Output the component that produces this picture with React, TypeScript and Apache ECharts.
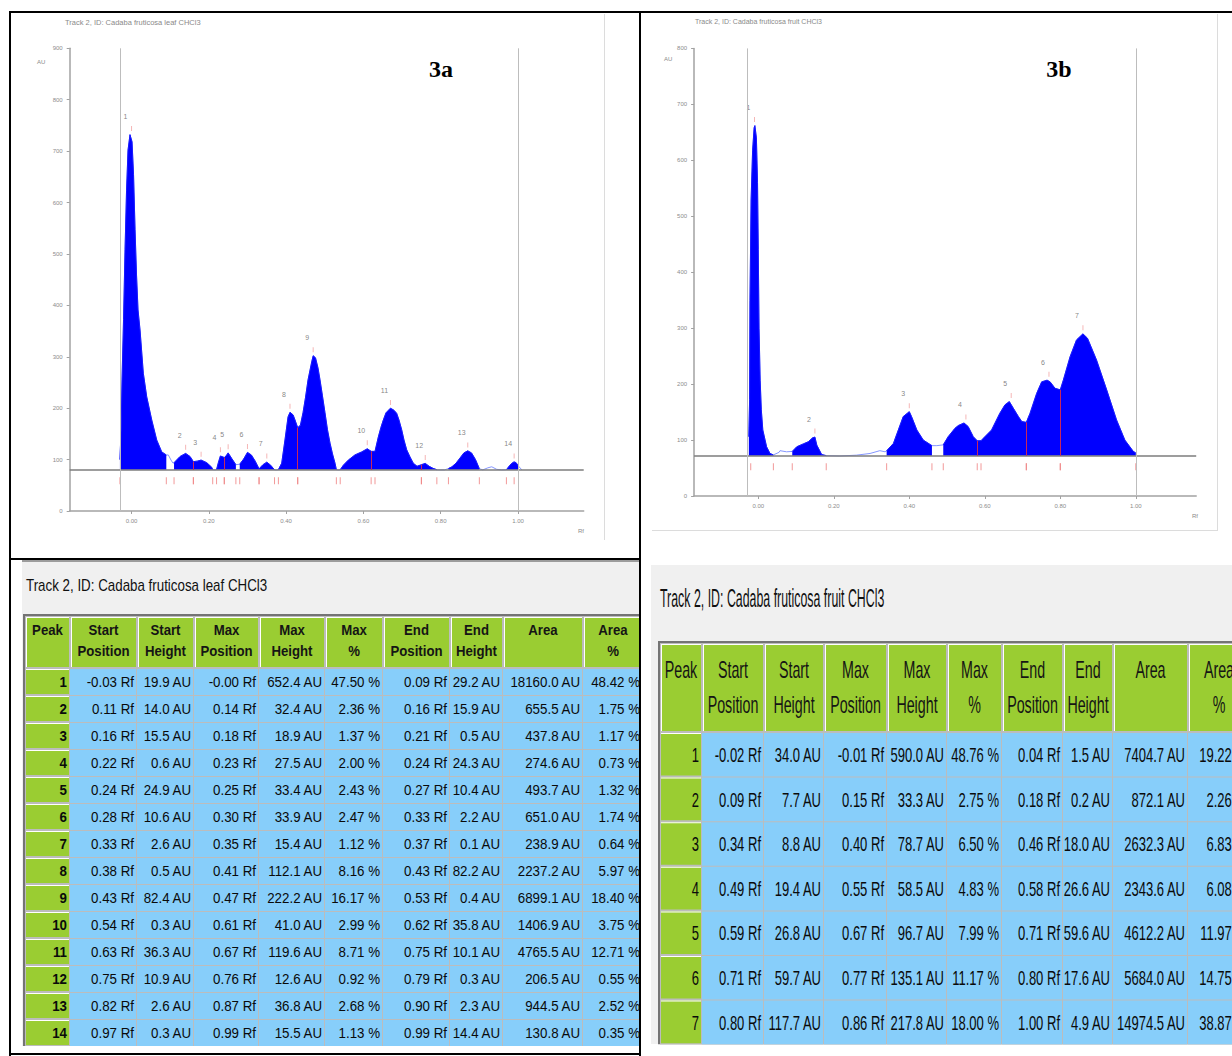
import React, { useEffect, useRef } from "react";
import * as echarts from "echarts";

// ================= 3a : Cadaba fruticosa leaf CHCl3 — densitogram trace (Rf, AU)
const rfLeaf = [
  -0.03, -0.027, -0.0246, -0.0207, -0.0168, -0.0129, -0.0091, -0.004, 0.0013, 0.0052, 0.0091, 0.0129, 0.0168, 0.022, 0.0305, 0.0393, 0.0523, 0.0652, 0.0781, 0.09,
  0.0952, 0.1022, 0.1074, 0.11,
  0.1255, 0.14, 0.1514, 0.16,
  0.17, 0.18, 0.1946, 0.2075, 0.21,
  0.216, 0.22,
  0.225, 0.23, 0.24,
  0.2445, 0.25, 0.2593, 0.27,
  0.28, 0.29, 0.3, 0.31, 0.32, 0.33,
  0.34, 0.35, 0.36, 0.37,
  0.375,
  0.38, 0.3886, 0.397, 0.405, 0.41, 0.418, 0.423, 0.43,
  0.437, 0.4437, 0.45, 0.4567, 0.4662, 0.47, 0.476, 0.4825, 0.4877, 0.494, 0.5006, 0.507, 0.5136, 0.52, 0.5265, 0.53,
  0.535,
  0.54, 0.548, 0.561, 0.578, 0.5956, 0.61, 0.62,
  0.63, 0.6386, 0.6455, 0.6515, 0.6585, 0.67, 0.679, 0.686, 0.692, 0.699, 0.705, 0.712, 0.7206, 0.729, 0.7387, 0.75,
  0.76, 0.77, 0.78, 0.79,
  0.8, 0.81,
  0.82, 0.829, 0.8396, 0.85, 0.86, 0.87, 0.8797, 0.89, 0.9,
  0.909, 0.922, 0.932, 0.945, 0.958,
  0.97, 0.979, 0.986, 0.99, 0.995, 1.001, 1.01,
];
const auLeaf = [
  100, 158, 255, 372, 508, 624, 702, 732, 718, 654, 547, 459, 391, 352, 268, 222, 177, 138, 115, 109,
  109, 99, 93, 94,
  106, 112, 106, 96,
  97, 99, 94, 85, 80.5,
  80, 80.6,
  95, 107, 104,
  107, 113, 102, 90,
  91, 101, 114, 109, 97, 82,
  90, 95, 89, 80,
  80,
  80.5, 93, 138, 183, 192, 187, 177, 162,
  167, 191, 220, 255, 290, 302, 298, 278, 255, 224, 191, 158, 132, 111, 93, 80.4,
  80,
  80.3, 89, 99, 109, 115, 121, 116,
  116, 144, 163, 177, 191, 200, 196, 190, 177, 158, 138, 119, 105, 93, 87, 90,
  92.6, 87, 83, 80.3,
  80, 80,
  82.6, 86, 93, 103, 113, 117, 113, 100, 82.3,
  80, 84, 86, 81, 80,
  80.3, 89, 94, 95.5, 94, 87.5, 80,
];
const baselineLeaf = 80;
const fillFromLeaf = [-0.03, 0.11, 0.22, 0.28, 0.38, 0.54, 0.82, 0.97];
const fillToLeaf = [0.09, 0.21, 0.27, 0.37, 0.53, 0.79, 0.9, 1.001];
const splitsLeaf = [0.16, 0.24, 0.43, 0.62, 0.75];
const frontsLeaf = [-0.03, 1.0];

// ================= 3b : Cadaba fruticosa fruit CHCl3
const rfFruit = [
  -0.025, -0.023, -0.022, -0.019, -0.015, -0.011, -0.009, -0.005, -0.002, 0.0, 0.002, 0.005, 0.008, 0.012, 0.022, 0.031, 0.04,
  0.055, 0.0575, 0.075, 0.09,
  0.102, 0.119, 0.1325, 0.144, 0.15, 0.155, 0.168, 0.18,
  0.216, 0.26, 0.296, 0.322, 0.336,
  0.34, 0.358, 0.371, 0.384, 0.4, 0.406, 0.42, 0.437, 0.46,
  0.473, 0.49,
  0.503, 0.521, 0.53, 0.545, 0.556, 0.5695, 0.58,
  0.59, 0.596, 0.618, 0.64, 0.6535, 0.665, 0.6755, 0.689, 0.698, 0.71,
  0.72, 0.7375, 0.7507, 0.765, 0.773, 0.786, 0.8,
  0.808, 0.826, 0.843, 0.86, 0.872, 0.896, 0.923, 0.949, 0.971, 0.993, 1.0,
];
const auFruit = [
  106, 172, 350, 529, 618, 658, 662, 640, 560, 440, 300, 207, 154, 118, 88, 76, 73.5,
  78, 81, 79, 79.7,
  88, 93, 97, 104, 105.3, 91, 74, 72.2,
  71.5, 73, 76, 81, 79,
  80.8, 94, 118, 142, 150.7, 142, 118, 100, 90,
  90, 91.4,
  106, 121, 126, 130.5, 124, 106, 98.6,
  98.8, 103, 118, 148, 163, 168.7, 157, 142, 133, 131.6,
  148, 183.5, 204, 207, 204, 192.5, 189.7,
  207, 249, 279, 289.8, 282, 243, 189.5, 136, 100, 80, 76.9,
];
const baselineFruit = 72;
const fillFromFruit = [-0.025, 0.09, 0.34, 0.49];
const fillToFruit = [0.04, 0.18, 0.46, 1.0];
const splitsFruit = [0.58, 0.71, 0.8];
const frontsFruit = [-0.025, 1.0];

const xTickValues = [0, 0.2, 0.4, 0.6, 0.8, 1.0];

// ================= Table: leaf
const peakLeaf = [1, 2, 3, 4, 5, 6, 7, 8, 9, 10, 11, 12, 13, 14];
const startPosLeaf = [-0.03, 0.11, 0.16, 0.22, 0.24, 0.28, 0.33, 0.38, 0.43, 0.54, 0.63, 0.75, 0.82, 0.97];
const startHLeaf = [19.9, 14.0, 15.5, 0.6, 24.9, 10.6, 2.6, 0.5, 82.4, 0.3, 36.3, 10.9, 2.6, 0.3];
const maxPosLeaf = [-0.0, 0.14, 0.18, 0.23, 0.25, 0.3, 0.35, 0.41, 0.47, 0.61, 0.67, 0.76, 0.87, 0.99];
const maxHLeaf = [652.4, 32.4, 18.9, 27.5, 33.4, 33.9, 15.4, 112.1, 222.2, 41.0, 119.6, 12.6, 36.8, 15.5];
const maxPctLeaf = [47.5, 2.36, 1.37, 2.0, 2.43, 2.47, 1.12, 8.16, 16.17, 2.99, 8.71, 0.92, 2.68, 1.13];
const endPosLeaf = [0.09, 0.16, 0.21, 0.24, 0.27, 0.33, 0.37, 0.43, 0.53, 0.62, 0.75, 0.79, 0.9, 0.99];
const endHLeaf = [29.2, 15.9, 0.5, 24.3, 10.4, 2.2, 0.1, 82.2, 0.4, 35.8, 10.1, 0.3, 2.3, 14.4];
const areaLeaf = [18160.0, 655.5, 437.8, 274.6, 493.7, 651.0, 238.9, 2237.2, 6899.1, 1406.9, 4765.5, 206.5, 944.5, 130.8];
const areaPctLeaf = [48.42, 1.75, 1.17, 0.73, 1.32, 1.74, 0.64, 5.97, 18.4, 3.75, 12.71, 0.55, 2.52, 0.35];

// ================= Table: fruit
const peakFruit = [1, 2, 3, 4, 5, 6, 7];
const startPosFruit = [-0.02, 0.09, 0.34, 0.49, 0.59, 0.71, 0.8];
const startHFruit = [34.0, 7.7, 8.8, 19.4, 26.8, 59.7, 117.7];
const maxPosFruit = [-0.01, 0.15, 0.4, 0.55, 0.67, 0.77, 0.86];
const maxHFruit = [590.0, 33.3, 78.7, 58.5, 96.7, 135.1, 217.8];
const maxPctFruit = [48.76, 2.75, 6.5, 4.83, 7.99, 11.17, 18.0];
const endPosFruit = [0.04, 0.18, 0.46, 0.58, 0.71, 0.8, 1.0];
const endHFruit = [1.5, 0.2, 18.0, 26.6, 59.6, 17.6, 4.9];
const areaFruit = [7404.7, 872.1, 2632.3, 2343.6, 4612.2, 5684.0, 14974.5];
const areaPctFruit = [19.22, 2.26, 6.83, 6.08, 11.97, 14.75, 38.87];

const HEADERS = ["Peak", "Start\nPosition", "Start\nHeight", "Max\nPosition", "Max\nHeight", "Max\n%", "End\nPosition", "End\nHeight", "Area", "Area\n%"];
const titleLeaf = "Track 2, ID: Cadaba fruticosa leaf CHCl3";
const titleFruit = "Track 2, ID: Cadaba fruticosa fruit CHCl3";

// ----------------------------------------------------------------
const GREEN = "#9acd32";
const BLUE = "#87cefa";
const FONT = "'Liberation Sans', Arial, Helvetica, sans-serif";
const AXIS_GREY = "#a2a2a2";

const fmtPos = (v: number) => (Object.is(v, -0) ? "-" : "") + v.toFixed(2) + " Rf";
const fmtAU = (v: number) => v.toFixed(1) + " AU";
const fmtPct = (v: number) => v.toFixed(2) + " %";

function R(x: number, y: number, w: number, h: number, fill: string, z = 2) {
  return { type: "rect", silent: true, z, shape: { x, y, width: w, height: h }, style: { fill } };
}
function T(x: number, y: number, text: string, o: any) {
  return {
    type: "text",
    silent: true,
    z: o.z ?? 5,
    x,
    y,
    scaleX: o.scaleX ?? 1,
    style: {
      text,
      fontSize: o.fontSize,
      fontFamily: o.fontFamily ?? FONT,
      fontWeight: o.fontWeight ?? "normal",
      fill: o.fill ?? "#111",
      align: o.align ?? "left",
      verticalAlign: o.verticalAlign ?? "middle",
      lineHeight: o.lineHeight,
    },
  };
}

function tableEls(cfg: any, rows: string[][]) {
  const els: any[] = [];
  const cols: number[] = cfg.cols;
  const top = cfg.top;
  const x0 = cols[0];
  const x1 = cols[cols.length - 1];
  const bodyTop = top + cfg.headH;
  const y1 = bodyTop + cfg.rowH * rows.length;
  els.push(R(x0 - 2, top - 2, x1 - x0 + 2, y1 - top + 2, "#747474", 2));
  els.push(R(x0, top, x1 - x0, y1 - top, "#bcbcbc", 2));
  HEADERS.forEach((h, c) => {
    const cx = cols[c];
    const w = cols[c + 1] - cx;
    els.push(R(cx + 1, top + 1, w - 2, cfg.headH - 2, GREEN, 3));
    els.push(R(cx + 1, top + 1, w - 2, 1, "#ffffff", 3));
    els.push(R(cx + 1, top + 1, 1, cfg.headH - 2, "#ffffff", 3));
    els.push(
      T(cx + w / 2, top + cfg.headPadTop, h, {
        fontSize: cfg.headFontSize,
        fontWeight: cfg.headWeight,
        scaleX: cfg.headScale,
        align: "center",
        verticalAlign: "top",
        lineHeight: cfg.headLineH,
        fill: "#151515",
      })
    );
  });
  rows.forEach((r, i) => {
    const y = bodyTop + i * cfg.rowH;
    r.forEach((cell, c) => {
      const cx = cols[c];
      const w = cols[c + 1] - cx;
      if (c === 0) {
        els.push(R(cx + 1, y + 1, w - 2, cfg.rowH - 2, GREEN, 3));
        els.push(R(cx + 1, y + 1, w - 2, 1, "#ffffff", 3));
      } else {
        els.push(R(cx, y + 1, w - 1, cfg.rowH - 1, BLUE, 3));
      }
      els.push(
        T(cx + w - cfg.pad, y + cfg.rowH / 2 + 0.5, cell, {
          fontSize: cfg.bodyFontSize,
          fontWeight: c === 0 ? cfg.peakWeight : "normal",
          scaleX: cfg.bodyScale,
          align: "right",
          verticalAlign: "middle",
          fill: "#0a0a0a",
        })
      );
    });
  });
  return els;
}

function rowsOf(peak: number[], sp: number[], sh: number[], mp: number[], mh: number[], mpc: number[], ep: number[], eh: number[], ar: number[], apc: number[]) {
  return peak.map((p, i) => [String(p), fmtPos(sp[i]), fmtAU(sh[i]), fmtPos(mp[i]), fmtAU(mh[i]), fmtPct(mpc[i]), fmtPos(ep[i]), fmtAU(eh[i]), fmtAU(ar[i]), fmtPct(apc[i])]);
}

function chromSeries(idx: number, rf: number[], au: number[], base: number, from: number[], to: number[], splits: number[], fronts: number[], starts: number[], ends: number[], maxPos: number[], maxH: number[]) {
  const trace = rf.map((x, i) => [x, au[i]]);
  const fill: any[] = [];
  from.forEach((f, k) => {
    rf.forEach((x, i) => {
      if (x >= f - 1e-9 && x <= to[k] + 1e-9) fill.push([x, au[i]]);
    });
    fill.push([to[k], null]);
  });
  const heightAt = (x: number) => {
    let best = 0;
    rf.forEach((v, i) => {
      if (Math.abs(v - x) < Math.abs(rf[best] - x)) best = i;
    });
    return au[best];
  };
  const redStyle = { color: "#c8285a", width: 1, type: "solid" };
  return [
    {
      type: "line",
      xAxisIndex: idx,
      yAxisIndex: idx,
      data: trace,
      symbol: "none",
      silent: true,
      z: 1,
      lineStyle: { color: "#8596ff", width: 1 },
    },
    {
      type: "line",
      xAxisIndex: idx,
      yAxisIndex: idx,
      data: fill,
      symbol: "none",
      silent: true,
      connectNulls: false,
      z: 2,
      lineStyle: { color: "#1818ff", width: 1 },
      areaStyle: { color: "#0000ff", opacity: 1, origin: base },
      markLine: {
        silent: true,
        symbol: ["none", "none"],
        label: { show: false },
        animation: false,
        data: [
          { yAxis: base, lineStyle: { color: "#7c7c7c", width: 1.5, type: "solid" } },
          ...fronts.map((x) => ({ xAxis: x, lineStyle: { color: "#bdbdbd", width: 1, type: "solid" } })),
          ...splits.map((x) => [
            { coord: [x, base], lineStyle: redStyle },
            { coord: [x, heightAt(x)], lineStyle: redStyle },
          ]),
        ],
      },
    },
    {
      type: "scatter",
      xAxisIndex: idx,
      yAxisIndex: idx,
      data: [...starts, ...ends].map((p) => [p, base]),
      symbol: "rect",
      symbolSize: [1, 7],
      symbolOffset: [0, 11],
      silent: true,
      z: 4,
      itemStyle: { color: "#ef8080" },
    },
    {
      type: "scatter",
      xAxisIndex: idx,
      yAxisIndex: idx,
      data: maxPos.map((p, i) => [p, base + maxH[i]]),
      symbol: "rect",
      symbolSize: [1, 5],
      symbolOffset: [0, -6],
      silent: true,
      z: 4,
      itemStyle: { color: "#f2a4a4" },
      label: {
        show: true,
        position: "top",
        distance: 6,
        offset: [-6, 0],
        formatter: (p: any) => String(p.dataIndex + 1),
        fontSize: 7,
        color: "#666",
        fontFamily: FONT,
      },
    },
  ];
}

function xAx(idx: number, min: number, max: number) {
  return {
    type: "value",
    gridIndex: idx,
    min,
    max,
    axisLine: { show: true, onZero: false, lineStyle: { color: AXIS_GREY, width: 1.5 } },
    axisTick: { show: true, length: 3, customValues: xTickValues, lineStyle: { color: AXIS_GREY } },
    axisLabel: { show: true, customValues: xTickValues, formatter: (v: number) => v.toFixed(2), fontSize: 6, color: "#8c8c8c", margin: 7, fontFamily: FONT },
    splitLine: { show: false },
  };
}
function yAx(idx: number, max: number) {
  return {
    type: "value",
    gridIndex: idx,
    min: 0,
    max,
    interval: 100,
    axisLine: { show: true, onZero: false, lineStyle: { color: AXIS_GREY, width: 1.5 } },
    axisTick: { show: true, length: 3, lineStyle: { color: AXIS_GREY } },
    axisLabel: { fontSize: 6, color: "#8c8c8c", margin: 7, fontFamily: FONT },
    splitLine: { show: false },
  };
}

function buildOption() {
  const g: any[] = [];
  // table panels
  g.push(R(22, 561, 617, 485, "#f0f0f0", 1));
  g.push(R(22, 560, 617, 2, "#9c9c9c", 1));
  g.push(R(651, 565, 581, 479, "#f0f0f0", 1));
  // chart image edges
  g.push(R(604, 14, 1, 526, "#dcdcdc", 1));
  g.push(R(1217, 14, 1, 517, "#dcdcdc", 1));
  g.push(R(652, 530, 566, 1, "#dcdcdc", 1));

  // chart texts
  g.push(T(65, 22, titleLeaf, { fontSize: 7.5, fill: "#8a8a8a" }));
  g.push(T(695, 21, titleFruit, { fontSize: 7, fill: "#8a8a8a" }));
  g.push(T(37, 62, "AU", { fontSize: 6, fill: "#8a8a8a" }));
  g.push(T(664, 59, "AU", { fontSize: 6, fill: "#8a8a8a" }));
  g.push(T(578, 531, "Rf", { fontSize: 6, fill: "#8a8a8a" }));
  g.push(T(1192, 516, "Rf", { fontSize: 6, fill: "#8a8a8a" }));
  g.push(T(441, 69, "3a", { fontSize: 24, fontWeight: "bold", fontFamily: "'Liberation Serif', 'Times New Roman', serif", align: "center", fill: "#000" }));
  g.push(T(1059, 69, "3b", { fontSize: 24, fontWeight: "bold", fontFamily: "'Liberation Serif', 'Times New Roman', serif", align: "center", fill: "#000" }));

  // tables
  g.push(T(26, 586, titleLeaf, { fontSize: 16, scaleX: 0.835, fill: "#111" }));
  g.push(T(660, 598, titleFruit, { fontSize: 25, scaleX: 0.495, fill: "#111" }));
  g.push(
    ...tableEls(
      {
        cols: [25, 70, 137, 194, 259, 325, 383, 450, 503, 583, 643],
        top: 616,
        headH: 52,
        rowH: 27,
        headFontSize: 15,
        headWeight: "bold",
        headScale: 0.88,
        headLineH: 21,
        headPadTop: 3.5,
        bodyFontSize: 15.5,
        bodyScale: 0.86,
        peakWeight: "bold",
        pad: 3,
      },
      rowsOf(peakLeaf, startPosLeaf, startHLeaf, maxPosLeaf, maxHLeaf, maxPctLeaf, endPosLeaf, endHLeaf, areaLeaf, areaPctLeaf)
    )
  );
  g.push(
    ...tableEls(
      {
        cols: [660, 702, 764, 824, 887, 947, 1002, 1063, 1113, 1188, 1250],
        top: 643,
        headH: 89,
        rowH: 44.6,
        headFontSize: 23,
        headWeight: "normal",
        headScale: 0.62,
        headLineH: 35,
        headPadTop: 9.5,
        bodyFontSize: 21,
        bodyScale: 0.62,
        peakWeight: "normal",
        pad: 3,
      },
      rowsOf(peakFruit, startPosFruit, startHFruit, maxPosFruit, maxHFruit, maxPctFruit, endPosFruit, endHFruit, areaFruit, areaPctFruit)
    )
  );
  // white gap between halves, then black frame
  g.push(R(641, 560, 10, 496, "#ffffff", 8));
  g.push(R(9, 11, 1223, 2, "#000000", 9));
  g.push(R(9, 11, 2, 1045, "#000000", 9));
  g.push(R(639, 11, 2, 1045, "#000000", 9));
  g.push(R(9, 558, 632, 2, "#000000", 9));
  g.push(R(9, 1053, 632, 2, "#000000", 9));

  return {
    animation: false,
    backgroundColor: "#ffffff",
    grid: [
      { left: 69.7, top: 48.3, width: 514, height: 462.7, outerBoundsMode: "none", containLabel: false },
      { left: 694.1, top: 48.4, width: 502.1, height: 447.6, outerBoundsMode: "none", containLabel: false },
    ],
    xAxis: [xAx(0, -0.16, 1.17), xAx(1, -0.17, 1.16)],
    yAxis: [yAx(0, 900), yAx(1, 800)],
    series: [
      ...chromSeries(0, rfLeaf, auLeaf, baselineLeaf, fillFromLeaf, fillToLeaf, splitsLeaf, frontsLeaf, startPosLeaf, endPosLeaf, maxPosLeaf, maxHLeaf),
      ...chromSeries(1, rfFruit, auFruit, baselineFruit, fillFromFruit, fillToFruit, splitsFruit, frontsFruit, startPosFruit, endPosFruit, maxPosFruit, maxHFruit),
    ],
    graphic: { elements: g },
  };
}

export default function App() {
  const ref = useRef<HTMLDivElement>(null);
  useEffect(() => {
    if (!ref.current) return;
    const chart = echarts.init(ref.current, null, { renderer: "svg" });
    chart.setOption(buildOption() as any);
    return () => chart.dispose();
  }, []);
  return <div ref={ref} style={{ position: "fixed", left: 0, top: 0, width: 1232, height: 1056, background: "#fff" }} />;
}
